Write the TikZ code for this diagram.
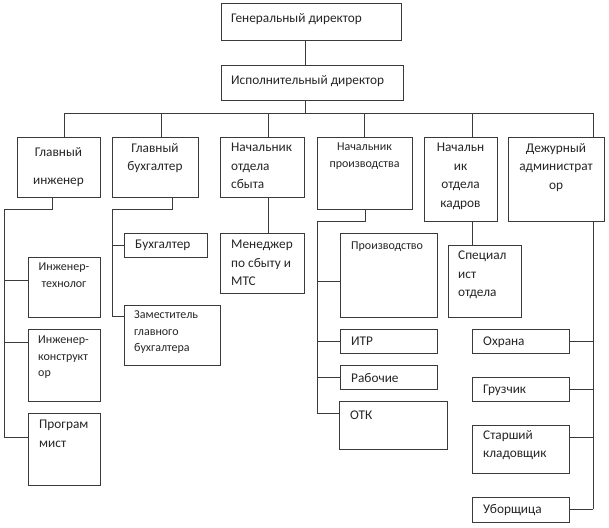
\documentclass[tikz,border=0pt]{standalone}
\usepackage{fontspec}
\setmainfont{Carlito}
\definecolor{ln}{HTML}{3A3A3A}
\definecolor{tx}{HTML}{262626}
\tikzset{
  bx/.style={draw=ln, line width=1pt, inner sep=0pt, outer sep=0pt, fill=white},
  con/.style={draw=ln, line width=1pt},
  big/.style={text=tx, inner sep=0pt, font=\fontsize{13.3}{18.5}\selectfont},
  sml/.style={text=tx, inner sep=0pt, font=\fontsize{12}{16.5}\selectfont},
}
\newcommand\obox[5]{\node[bx, minimum width={(#4-#2)*1pt}, minimum height={(#5-#3)*1pt}] (#1) at ({(#2+#4)/2},{(#3+#5)/2}) {};}
\begin{document}
\begin{tikzpicture}[x=1pt,y=-1pt]
\useasboundingbox (0,0) rectangle (609,527);
% boxes
\obox{gen}{221}{4}{401}{41}
\obox{isp}{221}{65}{403}{100}
\obox{gi}{17}{137}{100}{197}
\obox{gb}{112}{137}{198}{197}
\obox{nos}{220}{137}{304}{197}
\obox{np}{317}{137}{412}{209}
\obox{nok}{424}{137}{497}{221}
\obox{da}{508}{137}{604}{221}
\obox{buh}{124}{233}{207}{257}
\obox{zam}{124}{305}{220}{365}
\obox{men}{220}{233}{304}{293}
\obox{it}{28}{257}{100}{317}
\obox{ik}{28}{329}{100}{401}
\obox{prog}{28}{413}{100}{485}
\obox{proizv}{340}{233}{437}{317}
\obox{itr}{340}{329}{437}{353}
\obox{rab}{340}{365}{437}{389}
\obox{otk}{339}{401}{447}{449}
\obox{spec}{448}{245}{521}{317}
\obox{ohr}{472}{329}{569}{353}
\obox{gruz}{472}{377}{569}{401}
\obox{stk}{472}{425}{569}{473}
\obox{ubor}{472}{497}{569}{522}
% texts
\node[big, anchor=west] at (231,19) {Генеральный директор};
\node[big, anchor=west] at (231,81) {Исполнительный директор};
\node[big] at (58.5,152) {Главный};
\node[big] at (58.5,182) {инженер};
\node[big, align=center, anchor=north] at (155,143) {Главный\\бухгалтер};
\node[big, align=left, anchor=north west] at (231,143) {Начальник\\отдела\\сбыта};
\node[sml, align=center, anchor=north] at (364.5,143) {Начальник\\производства};
\node[big, align=center, anchor=north] at (460.5,143) {Начальн\\ик\\отдела\\кадров};
\node[big, align=center, anchor=north] at (556,143) {Дежурный\\администрат\\ор};
\node[big, anchor=west] at (135,245) {Бухгалтер};
\node[big, align=left, anchor=north west] at (231,240) {Менеджер\\по сбыту и\\МТС};
\node[sml, align=center, anchor=north] at (64,263) {Инженер-\\технолог};
\node[sml, align=left, anchor=north west] at (38,336) {Инженер-\\конструкт\\ор};
\node[big, align=left, anchor=north west] at (39,420) {Програм\\мист};
\node[sml, align=left, anchor=north west] at (134,311) {Заместитель\\главного\\бухгалтера};
\node[sml, anchor=west] at (351,247) {Производство};
\node[big, align=left, anchor=north west] at (458,251) {Специал\\ист\\отдела};
\node[big, anchor=west] at (351,341) {ИТР};
\node[big, anchor=west] at (351,378) {Рабочие};
\node[big, anchor=west] at (350,415) {ОТК};
\node[big, anchor=west] at (483,342) {Охрана};
\node[big, anchor=west] at (483,390) {Грузчик};
\node[big, align=left, anchor=north west] at (483,430) {Старший\\кладовщик};
\node[big, anchor=west] at (483,510) {Уборщица};
% top connectors
\coordinate (trunk) at (305,0);
\draw[con] (gen.south -| trunk) -- (isp.north -| trunk);
\coordinate (busL) at (64,113);
\coordinate (busR) at (593,113);
\draw[con] (isp.south -| trunk) -- (trunk |- busL);
\draw[con] (busL) -- (busR);
\draw[con] (busL) -- (gi.north -| busL);
\coordinate (d2) at (161,113);
\coordinate (d3) at (268,113);
\coordinate (d4) at (364,113);
\coordinate (d5) at (472,113);
\draw[con] (d2) -- (gb.north -| d2);
\draw[con] (d3) -- (nos.north -| d3);
\draw[con] (d4) -- (np.north -| d4);
\draw[con] (d5) -- (nok.north -| d5);
\draw[con] (busR) -- (da.north -| busR);
% Главный инженер
\coordinate (giA) at (52,209);
\coordinate (giB) at (4,209);
\coordinate (g1) at (4,280);
\coordinate (g2) at (4,342);
\coordinate (g3) at (4,437);
\draw[con] (gi.south -| giA) -- (giA) -- (giB) -- (g3);
\draw[con] (g1) -- (g1 -| it.west);
\draw[con] (g2) -- (g2 -| ik.west);
\draw[con] (g3) -- (g3 -| prog.west);
% Главный бухгалтер
\coordinate (gbA) at (172,209);
\coordinate (gbB) at (112,209);
\coordinate (b1) at (112,245);
\coordinate (b2) at (112,316);
\draw[con] (gb.south -| gbA) -- (gbA) -- (gbB) -- (b2);
\draw[con] (b1) -- (b1 -| buh.west);
\draw[con] (b2) -- (b2 -| zam.west);
% Начальник отдела сбыта
\coordinate (nsA) at (268,0);
\draw[con] (nos.south -| nsA) -- (men.north -| nsA);
% Начальник производства
\coordinate (npA) at (365,221);
\coordinate (npB) at (317,221);
\coordinate (p1) at (317,281);
\coordinate (p2) at (317,341);
\coordinate (p3) at (317,377);
\coordinate (p4) at (317,413);
\draw[con] (np.south -| npA) -- (npA) -- (npB) -- (p4);
\draw[con] (p1) -- (p1 -| proizv.west);
\draw[con] (p2) -- (p2 -| itr.west);
\draw[con] (p3) -- (p3 -| rab.west);
\draw[con] (p4) -- (p4 -| otk.west);
% Начальник отдела кадров
\coordinate (nkA) at (472,0);
\draw[con] (nok.south -| nkA) -- (spec.north -| nkA);
% Дежурный администратор
\coordinate (r1) at (593,341);
\coordinate (r2) at (593,389);
\coordinate (r3) at (593,437);
\coordinate (r4) at (593,509);
\draw[con] (da.south -| r4) -- (r4);
\draw[con] (r1) -- (r1 -| ohr.east);
\draw[con] (r2) -- (r2 -| gruz.east);
\draw[con] (r3) -- (r3 -| stk.east);
\draw[con] (r4) -- (r4 -| ubor.east);
\end{tikzpicture}
\end{document}
